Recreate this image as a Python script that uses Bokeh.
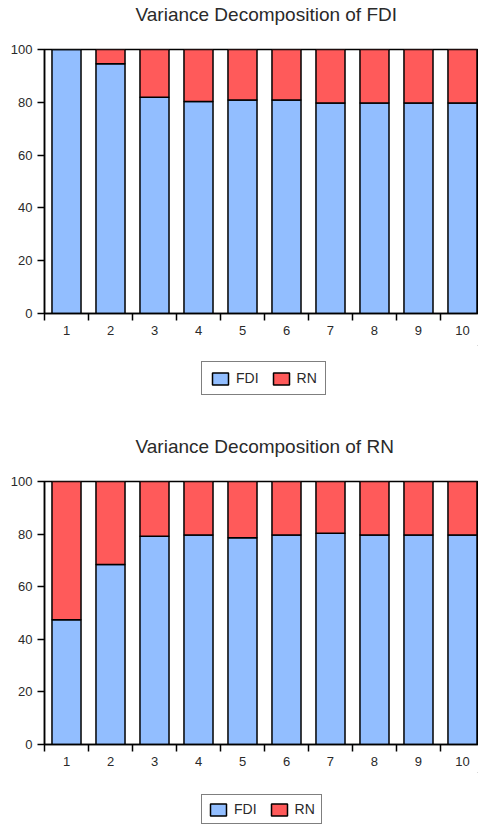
from bokeh.plotting import figure
from bokeh.models import FixedTicker, Legend, LegendItem, Range1d, ColumnDataSource, Title
from bokeh.layouts import column
from bokeh.embed import file_html
from bokeh.resources import INLINE

# ---- data ----
periods = [1, 2, 3, 4, 5, 6, 7, 8, 9, 10]
tick_labels = ["1", "2", "3", "4", "5", "6", "7", "8", "9", "10"]
y_ticks = [0, 20, 40, 60, 80, 100]

# Variance decomposition of FDI (shares due to FDI and RN)
fdi_of_fdi = [100.0, 94.6, 81.9, 80.3, 80.9, 80.9, 79.7, 79.7, 79.7, 79.7]
rn_of_fdi = [round(100 - v, 1) for v in fdi_of_fdi]

# Variance decomposition of RN
fdi_of_rn = [47.4, 68.4, 79.2, 79.7, 78.6, 79.7, 80.3, 79.7, 79.7, 79.7]
rn_of_rn = [round(100 - v, 1) for v in fdi_of_rn]

series_names = ["FDI", "RN"]
colors = ["#92BEFF", "#FF5A5A"]

FONT = "Liberation Sans"


def spacer(px):
    return Title(text=" ", text_font_size="1px", standoff=px)


def make_chart(title, fdi_vals, rn_vals, height, bottom_border):
    src = ColumnDataSource(dict(x=periods, FDI=fdi_vals, RN=rn_vals))
    p = figure(width=478, height=height, output_backend="svg", toolbar_location=None,
               x_range=Range1d(0.5, 10.364), y_range=Range1d(0, 100),
               min_border_left=44, min_border_right=0, min_border_top=49,
               min_border_bottom=bottom_border)

    # title area: spacer next to the frame, then the real title above it
    p.add_layout(spacer(19), "above")
    p.add_layout(Title(text=title, text_font=FONT, text_font_size="19px",
                       text_font_style="normal", text_color="#2a2a2a",
                       align="left", offset=91, vertical_align="middle", standoff=4), "above")

    p.xgrid.visible = False
    p.ygrid.visible = False
    p.outline_line_color = "black"
    p.outline_line_width = 1.5
    p.background_fill_color = "white"
    p.border_fill_color = "white"

    xa = p.xaxis[0]
    xa.ticker = FixedTicker(ticks=periods, minor_ticks=[i + 0.5 for i in range(0, 11)])
    xa.major_label_overrides = {p_: l for p_, l in zip(periods, tick_labels)}
    xa.major_tick_out = 0
    xa.major_tick_in = 0
    xa.minor_tick_out = 7
    xa.minor_tick_in = 0
    xa.minor_tick_line_color = "black"
    xa.minor_tick_line_width = 1.5
    xa.axis_line_color = "black"
    xa.axis_line_width = 1.5
    xa.major_label_standoff = 5
    xa.major_label_text_font = FONT
    xa.major_label_text_font_size = "13px"
    xa.major_label_text_color = "#2a2a2a"

    ya = p.yaxis[0]
    ya.ticker = FixedTicker(ticks=y_ticks)
    ya.major_tick_out = 7
    ya.major_tick_in = 0
    ya.minor_tick_out = 0
    ya.minor_tick_in = 0
    ya.major_tick_line_color = "black"
    ya.major_tick_line_width = 1.5
    ya.axis_line_color = "black"
    ya.axis_line_width = 1.5
    ya.major_label_standoff = 5
    ya.major_label_text_font = FONT
    ya.major_label_text_font_size = "13px"
    ya.major_label_text_color = "#2a2a2a"

    p.vbar_stack(series_names, x="x", width=0.66, color=colors,
                 line_color="black", line_width=1.5, source=src)
    return p


def make_legend(height, pad, bottom_y):
    lf = figure(width=478, height=height, output_backend="svg", toolbar_location=None,
                x_range=Range1d(0, 1), y_range=Range1d(0, 1),
                x_axis_type=None, y_axis_type=None, min_border=0)
    lf.xgrid.visible = False
    lf.ygrid.visible = False
    lf.outline_line_color = None
    lf.border_fill_color = "white"
    items = []
    for name, c in zip(series_names, colors):
        # swatch-only renderer: its bar lies far outside the visible range
        r = lf.vbar(x=[50], bottom=[50], top=[51], width=0.1,
                    fill_color=c, line_color="black", line_width=1.5)
        items.append(LegendItem(label=name, renderers=[r]))
    legend = Legend(items=items, orientation="horizontal", location=(157, bottom_y),
                    border_line_color="black", border_line_width=1.5,
                    padding=pad, spacing=12, label_standoff=6,
                    glyph_width=20, glyph_height=15, label_height=15, margin=0,
                    label_text_font=FONT, label_text_font_size="14px",
                    label_text_color="#2a2a2a", background_fill_alpha=1)
    lf.add_layout(legend)
    return lf


p1 = make_chart("Variance Decomposition of FDI", fdi_of_fdi, rn_of_fdi, 345, 32)
l1 = make_legend(87, 8, 37)
p2 = make_chart("Variance Decomposition of RN", fdi_of_rn, rn_of_rn, 340, 28)
l2 = make_legend(52, 6, 0)

layout = column(p1, l1, p2, l2, spacing=0)
open("out.html", "w").write(file_html(layout, INLINE))
